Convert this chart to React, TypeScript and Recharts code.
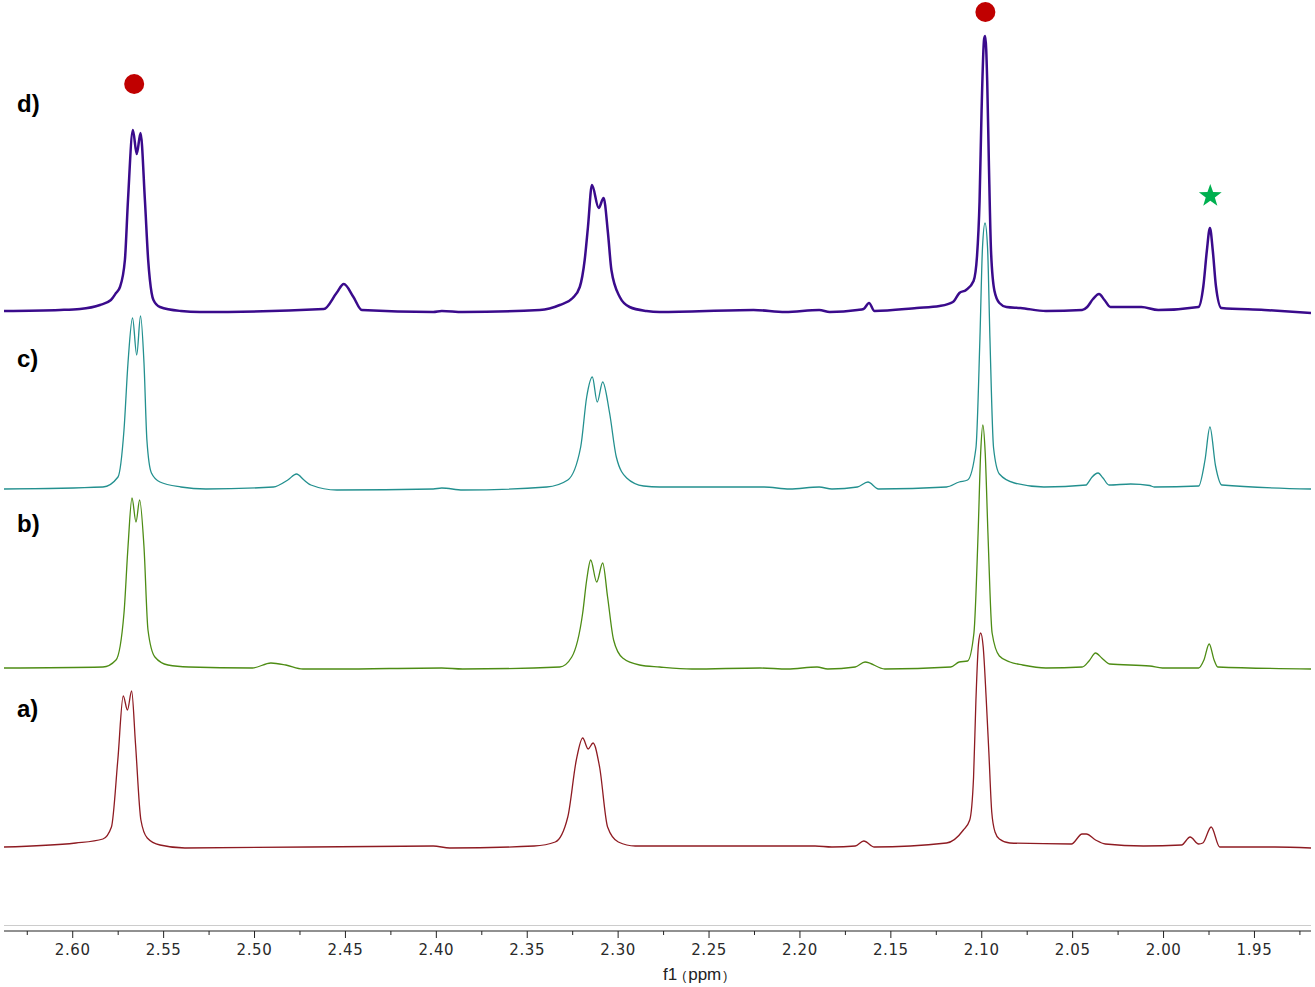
import { ComposedChart, Line, Scatter, XAxis, YAxis } from "recharts";

// every trace: [ppm, height above that trace's own baseline]
const traceD: [number, number][] = [
  [2.6378, 0], [2.607, 1], [2.596, 2], [2.585, 6], [2.579, 11], [2.5762, 18], [2.574, 24],
  [2.5713, 51], [2.5696, 111], [2.5669, 181], [2.5648, 157], [2.5627, 178], [2.5603, 111],
  [2.5585, 51], [2.5566, 18], [2.5556, 11], [2.552, 4], [2.5405, 0], [2.53, -1],
  [2.4619, 2], [2.4549, 18], [2.4509, 27], [2.4456, 14], [2.441, 1],
  [2.4017, -1], [2.397, 0], [2.3855, -1],
  [2.3431, 1], [2.3321, 6], [2.325, 13], [2.3211, 24], [2.3184, 51], [2.3166, 84],
  [2.3144, 126], [2.3107, 103], [2.308, 113], [2.3056, 78], [2.3037, 41], [2.2991, 14],
  [2.2937, 4], [2.2844, 0], [2.2772, -1],
  [2.2255, 1], [2.2081, -1], [2.1894, 1], [2.1836, -1], [2.1684, 1], [2.165, 2], [2.162, 8],
  [2.159, 0], [2.1358, 3], [2.1232, 5], [2.1159, 9], [2.1123, 18], [2.1086, 21], [2.1045, 30],
  [2.1026, 55], [2.1012, 110], [2.1001, 200], [2.0987, 272], [2.0981, 275], [2.097, 230],
  [2.0961, 150], [2.0949, 60], [2.093, 20], [2.0903, 8], [2.0864, 4], [2.0787, 3],
  [2.0647, 0], [2.0448, 1], [2.042, 4], [2.0388, 12], [2.0355, 17], [2.0325, 11], [2.0292, 4],
  [2.0122, 4], [2.0029, 1], [1.9808, 4], [1.9781, 25], [1.9762, 60], [1.9745, 83],
  [1.9729, 60], [1.9712, 25], [1.9682, 3], [1.9446, 1], [1.9189, -2],
];

const traceC: [number, number][] = [
  [2.6378, -1], [2.5834, 1], [2.5751, 11], [2.5718, 58], [2.5696, 125], [2.5671, 170],
  [2.5648, 133], [2.5627, 172], [2.5608, 125], [2.5592, 48], [2.5567, 15], [2.552, 6],
  [2.5405, 1], [2.5267, -1],
  [2.4896, 1], [2.4817, 8], [2.4769, 14], [2.4728, 8], [2.469, 3], [2.4547, -2],
  [2.4017, -1], [2.397, 0], [2.3855, -2],
  [2.3393, 1], [2.3277, 8], [2.3206, 41], [2.3173, 91], [2.3142, 111], [2.3115, 86],
  [2.3085, 106], [2.3047, 75], [2.301, 31], [2.2953, 10], [2.286, 2], [2.2772, 1],
  [2.2197, 1], [2.2057, -1], [2.1894, 1], [2.1824, -1], [2.1684, 1], [2.1626, 6], [2.1568, -1],
  [2.1194, 1], [2.1124, 6], [2.1078, 8], [2.1032, 40], [2.101, 150], [2.0996, 240],
  [2.0982, 265], [2.0968, 240], [2.0955, 150], [2.0935, 40], [2.0903, 14], [2.082, 5],
  [2.0658, 1], [2.0425, 3], [2.042, 4], [2.0393, 11], [2.036, 15], [2.0333, 10], [2.03, 3],
  [2.0181, 4], [2.0076, 2.5], [2.0052, 1], [1.9807, 2], [1.9772, 28], [1.9745, 61],
  [1.9714, 22], [1.9679, 3], [1.9189, -1],
];

const traceB: [number, number][] = [
  [2.6378, 0], [2.5834, 1], [2.5762, 8], [2.5718, 55], [2.5696, 121], [2.5674, 170],
  [2.5652, 146], [2.5632, 168], [2.5608, 121], [2.5586, 38], [2.5548, 11], [2.5476, 3],
  [2.5361, 1], [2.5012, 0], [2.491, 5], [2.4828, 3], [2.4734, -1], [2.4547, -1],
  [2.397, 0], [2.3855, -1],
  [2.3321, 1], [2.3255, 11], [2.3195, 55], [2.3173, 88], [2.3151, 108], [2.3118, 86],
  [2.3085, 105], [2.3058, 71], [2.3025, 28], [2.2975, 10], [2.2882, 3], [2.2772, 1],
  [2.2594, -1], [2.222, 0], [2.2069, -1], [2.1906, 1], [2.1847, -1], [2.1696, 1], [2.1642, 6],
  [2.1533, -1], [2.1171, 1], [2.1124, 6], [2.1078, 7], [2.1043, 35], [2.102, 135],
  [2.1006, 215], [2.0994, 243], [2.0981, 215], [2.0966, 135], [2.0943, 35], [2.0903, 12],
  [2.0845, 6], [2.0775, 3], [2.0647, 0], [2.0448, 1], [2.041, 7], [2.0374, 15], [2.034, 10],
  [2.0297, 4], [2.0076, 2], [2.0006, 0], [1.9807, 0], [1.9778, 8], [1.9749, 24], [1.9722, 8],
  [1.9702, 1], [1.9189, -1],
];

const traceA: [number, number][] = [
  [2.6378, 0], [2.5983, 4], [2.5834, 8], [2.5787, 20], [2.5752, 87], [2.5722, 151],
  [2.5699, 137], [2.5676, 156], [2.5655, 104], [2.5625, 27], [2.559, 9], [2.552, 2],
  [2.5383, -1], [2.4017, 1], [2.3926, -1],
  [2.3462, 1], [2.3346, 5], [2.3277, 30], [2.323, 87], [2.3195, 109], [2.3165, 98],
  [2.3138, 104], [2.3102, 80], [2.3058, 20], [2.2999, 5], [2.2906, 1], [2.2772, 1],
  [2.1917, 1], [2.1824, 0], [2.1696, 1], [2.1649, 6], [2.1591, 0],
  [2.1194, 4], [2.1101, 17], [2.1066, 27], [2.1045, 70], [2.1032, 147], [2.1018, 203],
  [2.1006, 214], [2.0992, 200], [2.0976, 150], [2.0961, 95], [2.0945, 35], [2.0927, 15],
  [2.0903, 8], [2.0845, 4], [2.0507, 3], [2.0448, 13], [2.0425, 13], [2.0374, 7], [2.032, 3],
  [2.0111, 1], [1.9901, 2], [1.9854, 10], [1.9807, 3], [1.9784, 4], [1.9738, 20],
  [1.9691, 0], [1.9388, 0], [1.9189, -1],
];

const majorTicks = [2.6, 2.55, 2.5, 2.45, 2.4, 2.35, 2.3, 2.25, 2.2, 2.15, 2.1, 2.05, 2.0, 1.95];
const minorTicks = [2.625, 2.575, 2.525, 2.475, 2.425, 2.375, 2.325, 2.275, 2.225, 2.175, 2.125, 2.075, 2.025, 1.975, 1.925];

// markers sit over trace d
const dotMarks: [number, number][] = [[2.5662, 227], [2.098, 299]];
const starMarks: [number, number][] = [[1.9743, 115]];

const traceLabels = ["d)", "c)", "b)", "a)"];

const PLOT_H = 931;
const toPts = (arr: [number, number][]) => arr.map(([ppm, h]) => ({ ppm, h }));

const series = [
  { id: "d", data: traceD, color: "#3a0b8c", width: 2.5, base: 311, labelY: 112 },
  { id: "c", data: traceC, color: "#23908f", width: 1.3, base: 488, labelY: 367 },
  { id: "b", data: traceB, color: "#4d8c14", width: 1.3, base: 668, labelY: 532 },
  { id: "a", data: traceA, color: "#8e1b22", width: 1.3, base: 847, labelY: 717 },
];

function PpmTick(props: any) {
  const { x, y, payload } = props;
  const v = payload.value;
  const major = majorTicks.some((t) => Math.abs(t - v) < 1e-6);
  return (
    <g>
      <line x1={x} x2={x} y1={y} y2={y + (major ? 7 : 4)} stroke="#222" strokeWidth={1} />
      {major && (
        <text x={x} y={y + 24} textAnchor="middle" fontFamily="DejaVu Sans" fontSize={15} letterSpacing={0.6} fill="#2a2a2a">
          {v.toFixed(2)}
        </text>
      )}
    </g>
  );
}

function DotShape(props: any) {
  return <circle cx={props.cx} cy={props.cy} r={10} fill="#c00000" />;
}

function StarShape(props: any) {
  const { cx, cy } = props;
  const pts: string[] = [];
  for (let i = 0; i < 10; i++) {
    const r = i % 2 === 0 ? 12 : 4.8;
    const a = -Math.PI / 2 + (i * Math.PI) / 5;
    pts.push(`${cx + r * Math.cos(a)},${cy + r * Math.sin(a)}`);
  }
  return <polygon points={pts.join(" ")} fill="#00b050" />;
}

export default function App() {
  return (
    <div style={{ position: "absolute", left: 0, top: 0, width: 1315, height: 987, background: "#fff" }}>
      <ComposedChart width={1315} height={987} margin={{ top: 0, right: 4, bottom: 0, left: 4 }}>
        <XAxis
          type="number"
          dataKey="ppm"
          domain={[1.9189, 2.6378]}
          reversed
          allowDataOverflow
          ticks={[...majorTicks, ...minorTicks].sort((p, q) => q - p)}
          interval={0}
          tick={<PpmTick />}
          tickLine={false}
          tickSize={0}
          tickMargin={0}
          height={987 - PLOT_H}
          axisLine={{ stroke: "#222", strokeWidth: 1 }}
        />
        {series.map((s) => (
          <YAxis
            key={s.id}
            yAxisId={s.id}
            hide
            type="number"
            allowDataOverflow
            domain={[-(PLOT_H - s.base), s.base]}
          />
        ))}
        {series.map((s) => (
          <Line
            key={s.id}
            yAxisId={s.id}
            data={toPts(s.data)}
            dataKey="h"
            type="monotone"
            stroke={s.color}
            strokeWidth={s.width}
            dot={false}
            isAnimationActive={false}
          />
        ))}
        <Scatter yAxisId="d" data={toPts(dotMarks)} dataKey="h" shape={<DotShape />} isAnimationActive={false} />
        <Scatter yAxisId="d" data={toPts(starMarks)} dataKey="h" shape={<StarShape />} isAnimationActive={false} />
      </ComposedChart>
      <div style={{ position: "absolute", left: 4, top: 925, width: 1307, height: 1, background: "#cccccc" }} />
      <svg width={1315} height={987} style={{ position: "absolute", left: 0, top: 0, pointerEvents: "none" }}>
        {series.map((s, i) => (
          <text key={s.id} x={17} y={s.labelY} fontFamily="Liberation Sans" fontWeight="bold" fontSize={24} fill="#000">
            {traceLabels[i]}
          </text>
        ))}
        <text x={663} y={980} fontFamily="Liberation Sans" fontSize={17} fill="#222">
          <tspan>f1</tspan>
          <tspan fontSize={12} dx={5}>(</tspan>
          <tspan dx={2}>ppm</tspan>
          <tspan fontSize={12} dx={2}>)</tspan>
        </text>
      </svg>
    </div>
  );
}
